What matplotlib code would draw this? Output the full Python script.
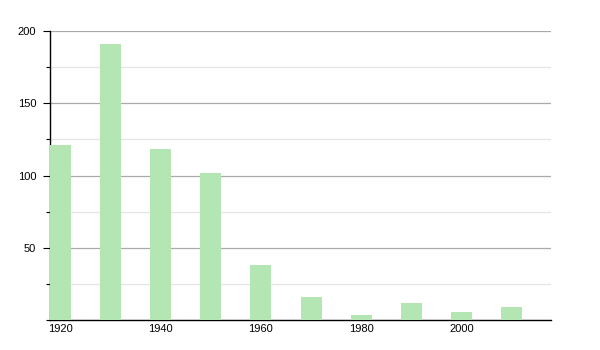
import matplotlib
matplotlib.use("Agg")
import matplotlib.pyplot as plt
from matplotlib.ticker import MultipleLocator

plt.rcParams["font.family"] = ["Liberation Sans", "DejaVu Sans"]

years = [1920, 1930, 1940, 1950, 1960, 1970, 1980, 1990, 2000, 2010]
values = [121, 191, 118, 102, 38, 16, 3.5, 12, 5.5, 9]
tick_years = [1920, 1940, 1960, 1980, 2000]

fig = plt.figure(figsize=(6, 3.5), dpi=100)
ax = fig.add_axes([50 / 600, 30 / 350, 501 / 600, 289 / 350])

# bars start at the year, labels sit at bar centre
bar_w = 4.2
ax.bar(years, values, width=bar_w, align="edge", color="#b3e6b3", zorder=3)

ax.set_xlim(1920, 2020)
ax.set_ylim(0, 200)
ax.set_xticks([y + bar_w / 2 for y in tick_years])
ax.set_xticklabels([str(y) for y in tick_years])
ax.yaxis.set_major_locator(MultipleLocator(50))
ax.yaxis.set_minor_locator(MultipleLocator(25))
ax.set_yticks([50, 100, 150, 200])

ax.grid(axis="y", which="major", color="#aaaaaa", linewidth=0.9, zorder=1)
ax.grid(axis="y", which="minor", color="#e6e6e6", linewidth=0.9, zorder=1)

for s in ["top", "right"]:
    ax.spines[s].set_visible(False)
ax.spines["left"].set_linewidth(1.0)
ax.spines["bottom"].set_linewidth(1.0)

ax.tick_params(axis="x", length=0, labelsize=8, pad=3)
ax.tick_params(axis="y", which="major", length=5, width=0.8, labelsize=8, pad=5)
ax.tick_params(axis="y", which="minor", length=3, width=0.8)

fig.savefig("out.png", dpi=100)
